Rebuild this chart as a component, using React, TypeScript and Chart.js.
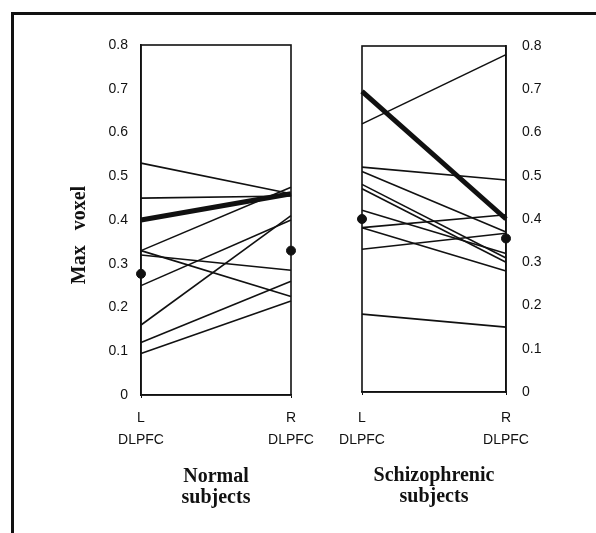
import React, { useEffect, useRef } from "react";
import { Chart, registerables } from "chart.js";

Chart.register(...registerables);

// ---- data ----
const sidePositions = [0, 1];
const sideLabels = ["L", "R"];
const regionName = "DLPFC";
const yAxisTitle = "Max   voxel";
const groupNormal = ["Normal", "subjects"];
const groupSchiz = ["Schizophrenic", "subjects"];
const yMin = 0;
const yMax = 0.8;
const yStep = 0.1;

const normalLeft = [0.53, 0.45, 0.4, 0.33, 0.33, 0.32, 0.25, 0.16, 0.12, 0.095];
const normalRight = [0.46, 0.455, 0.46, 0.475, 0.225, 0.285, 0.4, 0.41, 0.26, 0.215];
const normalHighlight = 2;
const normalMeans = [0.277, 0.33];

const schizLeft = [0.62, 0.695, 0.52, 0.51, 0.48, 0.47, 0.42, 0.38, 0.38, 0.33, 0.18];
const schizRight = [0.78, 0.4, 0.49, 0.37, 0.31, 0.3, 0.32, 0.41, 0.28, 0.367, 0.15];
const schizHighlight = 1;
const schizMeans = [0.4, 0.355];

// ---- styles ----
const W = 596;
const H = 533;
const INK = "#111111";
const sansFont = "'Liberation Sans', Arial, sans-serif";
const serifFont = "'Liberation Serif', 'Times New Roman', serif";

function buildDatasets(lefts: number[], rights: number[], highlight: number, means: number[]) {
  const ds: any[] = lefts.map((l, i) => ({
    type: "line",
    data: [
      { x: sidePositions[0], y: l },
      { x: sidePositions[1], y: rights[i] },
    ],
    borderColor: INK,
    borderWidth: i === highlight ? 5 : 1.6,
    pointRadius: 0,
    fill: false,
    clip: false,
  }));
  ds.push({
    type: "scatter",
    data: means.map((m, i) => ({ x: sidePositions[i], y: m })),
    backgroundColor: INK,
    borderColor: INK,
    pointRadius: 4.5,
    showLine: false,
    clip: false,
  });
  return ds;
}

const boxPlugin = {
  id: "boxFrame",
  beforeDatasetsDraw(chart: any) {
    const { ctx, chartArea: a } = chart;
    ctx.save();
    ctx.strokeStyle = INK;
    ctx.lineWidth = 1.6;
    ctx.strokeRect(a.left, a.top, a.right - a.left, a.bottom - a.top);
    ctx.restore();
  },
};

const yTitlePlugin = {
  id: "yTitle",
  afterDraw(chart: any) {
    const { ctx, chartArea: a } = chart;
    ctx.save();
    ctx.translate(80, (a.top + a.bottom) / 2 + 15);
    ctx.rotate(-Math.PI / 2);
    ctx.font = `bold 20px ${serifFont}`;
    ctx.fillStyle = INK;
    ctx.textAlign = "center";
    ctx.textBaseline = "middle";
    ctx.fillText(yAxisTitle, 0, 0);
    ctx.restore();
  },
};

function xTickLabel(v: number) {
  const i = sidePositions.indexOf(v);
  return i >= 0 ? [sideLabels[i], regionName] : "";
}

function makeConfig(side: "left" | "right"): any {
  const isLeft = side === "left";
  const datasets = isLeft
    ? buildDatasets(normalLeft, normalRight, normalHighlight, normalMeans)
    : buildDatasets(schizLeft, schizRight, schizHighlight, schizMeans);
  return {
    type: "line",
    data: { datasets },
    options: {
      animation: false,
      responsive: false,
      devicePixelRatio: 1,
      layout: {
        padding: isLeft
          ? { left: 68, right: 305, top: 45, bottom: 23 }
          : { left: 362, right: 40, top: 46, bottom: 26 },
      },
      plugins: { legend: { display: false }, tooltip: { enabled: false } },
      scales: {
        x: {
          type: "linear",
          min: sidePositions[0],
          max: sidePositions[1],
          position: "bottom",
          afterFit: (s: any) => {
            s.height = 115;
          },
          ticks: {
            stepSize: 1,
            autoSkip: false,
            maxRotation: 0,
            color: INK,
            padding: isLeft ? 9 : 12,
            font: { family: sansFont, size: 14, lineHeight: 1.6 },
            callback: (v: any) => xTickLabel(Number(v)),
          },
          grid: { drawOnChartArea: false, drawTicks: true, tickLength: 3, color: INK, lineWidth: 1 },
          border: { display: true, color: INK, width: 1.6 },
          title: {
            display: true,
            text: isLeft ? groupNormal : groupSchiz,
            color: INK,
            font: { family: serifFont, size: 20, weight: "bold", lineHeight: 1.05 },
            padding: { top: 0, bottom: isLeft ? 1.5 : 0 },
          },
        },
        y: {
          type: "linear",
          min: yMin,
          max: yMax,
          position: isLeft ? "left" : "right",
          afterFit: (s: any) => {
            s.width = isLeft ? 73 : 50;
          },
          ticks: {
            stepSize: yStep,
            color: INK,
            padding: isLeft ? 13 : 16,
            font: { family: sansFont, size: 14 },
          },
          grid: { drawOnChartArea: false, drawTicks: false, color: INK, lineWidth: 1 },
          border: { display: true, color: INK, width: 1.6 },
        },
      },
    },
    plugins: isLeft ? [boxPlugin, yTitlePlugin] : [boxPlugin],
  };
}

function PanelCanvas({ side }: { side: "left" | "right" }) {
  const ref = useRef<HTMLCanvasElement | null>(null);
  useEffect(() => {
    if (!ref.current) return;
    const chart = new Chart(ref.current, makeConfig(side));
    return () => chart.destroy();
  }, [side]);
  return (
    <canvas
      ref={ref}
      width={W}
      height={H}
      style={{ position: "absolute", left: 0, top: 0, width: W, height: H }}
    />
  );
}

export default function App() {
  return (
    <div
      style={{
        position: "absolute",
        left: 0,
        top: 0,
        width: W,
        height: H,
        background: "#ffffff",
        overflow: "hidden",
      }}
    >
      <div
        style={{
          position: "absolute",
          left: 11,
          top: 12,
          width: W - 11,
          height: H - 12,
          borderTop: `3px solid ${INK}`,
          borderLeft: `3px solid ${INK}`,
          boxSizing: "border-box",
        }}
      />
      <PanelCanvas side="left" />
      <PanelCanvas side="right" />
    </div>
  );
}
